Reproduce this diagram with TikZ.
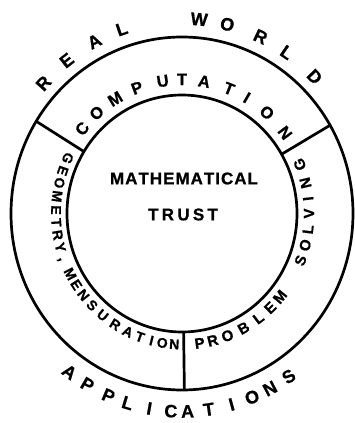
\documentclass[tikz,border=0pt]{standalone}
\usepackage{fontspec}
\setmainfont[BoldFeatures={FakeBold=0.8}]{Liberation Sans}
\newcommand\cma{,}
\newcommand\ringtext[6]{% rx, ry, size, rotation offset, name, list angle/letter
  \foreach \a/\ch [count=\i] in {#6}
    \node[lt=#3, rotate=\a#4] (#5\i) at (\a:#1pt and #2pt) {\vphantom{A}\smash{\ch}};}
\begin{document}
\begin{tikzpicture}[x=1pt,y=1pt,
  ring/.style={line width=2.7pt},
  lt/.style={inner sep=0pt, font=\bfseries\fontsize{#1}{#1}\selectfont},
]
\useasboundingbox (-182,-209.5) rectangle (172,213.5);
% circles
\draw[ring] (0,0) ellipse [x radius=171pt, y radius=176.5pt];
\draw[ring] (0,0) ellipse [x radius=115pt, y radius=118.5pt];
% dividers
\coordinate (oL) at (148.5:171pt and 176.5pt);
\coordinate (iL) at (148.5:115pt and 118.5pt);
\coordinate (oR) at (30:171pt and 176.5pt);
\coordinate (iR) at (30:115pt and 118.5pt);
\coordinate (oB) at (270.8:171pt and 176.5pt);
\coordinate (iB) at (270.8:115pt and 118.5pt);
\draw[ring] (oL) -- (iL);
\draw[ring] (oR) -- (iR);
\draw[ring] (oB) -- (iB);
% centre text
\node[lt=17] (math) at (2,35) {M\kern1pt A\kern1pt T\kern1pt H\kern1pt E\kern1pt M\kern1pt A\kern1pt T\kern1pt I\kern1pt C\kern1pt A\kern1pt L};
\node[lt=17] (trust) at (1,-1) {T\kern3.3pt R\kern3.3pt U\kern3.3pt S\kern3.3pt T};
% outer texts
\ringtext{186}{195}{18}{-90}{rw}{138.1/R,128.3/E,118.1/A,108.9/L,84.7/W,75.9/O,65/R,55.7/L,44.5/D}
\ringtext{188}{198}{18}{+90}{ap}{233.2/A,239.8/P,247/P,253.2/L,260/I,266.6/C,271.7/A,278.2/T,285.3/I,291.9/O,297.9/N,304.6/S}
% ring texts
\ringtext{129}{134}{16.5}{-90}{co}{140.7/C,131.4/O,121.2/M,110.4/P,98.6/U,90/T,80.1/A,68.6/T,59.8/I,48.8/O,37/N}
\ringtext{126}{131}{14}{+90}{ge}{155/G,161/E,166.5/O,172.5/M,178.5/E,184/T,189.5/R,195/Y,200/\cma,207.5/M,213/E,218.5/N,224.5/S,231/U,238/R,244.5/A,250.5/T,256/I,261/O,266.5/N}
\ringtext{127}{131}{15}{+90}{ps}{278/P,284/R,291/O,299/B,307/L,314/E,320.5/M,339/S,346/O,353/L,360/V,366.5/I,373.5/N,382/G}
\end{tikzpicture}
\end{document}
